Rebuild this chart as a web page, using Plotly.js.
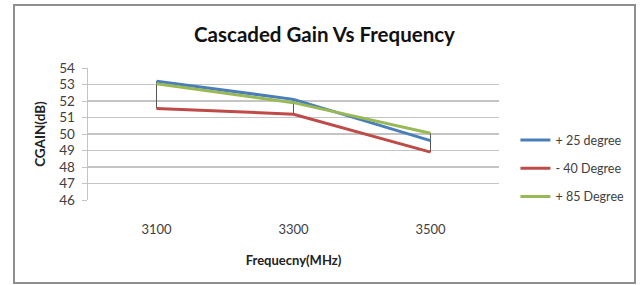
<!DOCTYPE html>
<html>
<head>
<meta charset="utf-8">
<script src="https://cdn.plot.ly/plotly-3.0.1.min.js"></script>
<style>
  html, body { margin: 0; padding: 0; background: #fff; }
  #wrap { position: relative; width: 640px; height: 285px; }
  #chart { width: 640px; height: 285px; }
  #frame { position: absolute; left: 13px; top: 4px; width: 619px; height: 276px;
           border: 2px solid #8f8f8f; pointer-events: none; }
</style>
</head>
<body>
<div id="wrap"><div id="chart"></div><div id="frame"></div></div>
<script>
const frequencies = ["3100", "3300", "3500"];
const seriesNames = ["+ 25 degree", "- 40 Degree", "+ 85 Degree"];
const gain25 = [53.2, 52.1, 49.6];
const gainM40 = [51.55, 51.2, 48.9];
const gain85 = [53.05, 51.9, 50.05];
const yTicks = [46, 47, 48, 49, 50, 51, 52, 53, 54];

const allSeries = [gain25, gainM40, gain85];
const colors = ["#4a7ebb", "#be4b48", "#98b954"];

// high-low lines built from the series values
const hlX = [], hlY = [];
frequencies.forEach((f, i) => {
  const vals = allSeries.map(s => s[i]);
  hlX.push(f, f, null);
  hlY.push(Math.max(...vals), Math.min(...vals), null);
});

const traces = [{
  x: hlX, y: hlY, type: "scatter", mode: "lines",
  line: { color: "#555555", width: 1 }, showlegend: false, hoverinfo: "skip"
}];
allSeries.forEach((s, k) => {
  traces.push({
    x: frequencies, y: s, type: "scatter", mode: "lines", name: seriesNames[k],
    legendgroup: "g" + k,
    line: { color: colors[k], width: 3 }
  });
});

const layout = {
  width: 640, height: 285,
  margin: { l: 88, r: 141, t: 68, b: 85, autoexpand: false },
  paper_bgcolor: "#ffffff", plot_bgcolor: "#ffffff",
  font: { family: "Lato, 'Open Sans', sans-serif", color: "#404040", size: 12 },
  title: { text: "<b>Cascaded Gain Vs Frequency</b>", x: 0.507, xanchor: "center",
           y: 0.877, yanchor: "middle",
           font: { family: "Lato, sans-serif", size: 20.5, color: "#111111" } },
  xaxis: {
    type: "category", range: [-0.5, 2.5],
    showgrid: false, zeroline: false, showline: false,
    ticks: "outside", ticklen: 17, tickcolor: "rgba(0,0,0,0)",
    tickfont: { size: 13, color: "#404040" },
    title: { text: "<b>Frequecny(MHz)</b>", standoff: 20, font: { size: 13, color: "#222222" } }
  },
  yaxis: {
    range: [46, 54], tickvals: yTicks, ticktext: yTicks.map(String),
    showgrid: true, gridcolor: "#c4c4c4", gridwidth: 1.5,
    zeroline: false, showline: true, linecolor: "#c4c4c4", linewidth: 1.5,
    ticks: "outside", ticklen: 5, tickcolor: "#c4c4c4", tickwidth: 1,
    ticklabelstandoff: 4,
    tickfont: { size: 13.5, color: "#404040" },
    title: { text: "<b>CGAIN(dB)</b>", standoff: 10, font: { size: 13.5, color: "#222222" } }
  },
  legend: {
    x: 1.04, xanchor: "left", y: 0.24, yanchor: "middle",
    traceorder: "grouped", tracegroupgap: 9,
    font: { size: 12.5, color: "#404040" }, itemwidth: 30,
    bgcolor: "rgba(0,0,0,0)"
  },
  showlegend: true
};

Plotly.newPlot("chart", traces, layout, { displayModeBar: false, staticPlot: true });
</script>
</body>
</html>
